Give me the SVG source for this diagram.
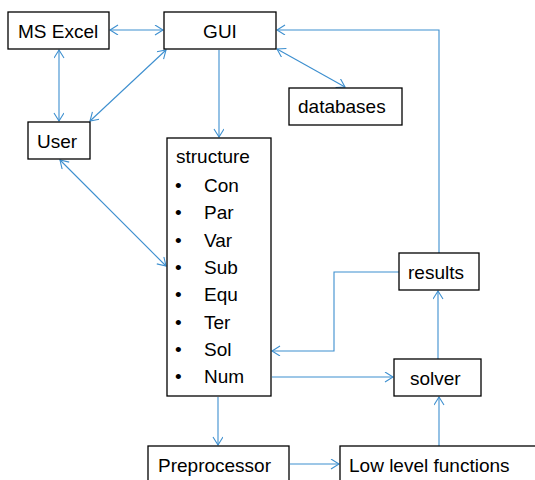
<svg xmlns="http://www.w3.org/2000/svg" width="535" height="480" viewBox="0 0 535 480">
<style>
.box{fill:#fff;stroke:#000;stroke-width:1.3}
.t{font-family:"Liberation Sans",Arial,sans-serif;font-size:19px;fill:#000}
.c{fill:none;stroke:#3d8fcf;stroke-width:1.1}
.a{marker-end:url(#ah)}
.b{marker-start:url(#ah);marker-end:url(#ah)}
</style>
<defs>
<marker id="ah" markerWidth="12" markerHeight="12" refX="9" refY="5" orient="auto-start-reverse" markerUnits="userSpaceOnUse">
<path d="M1,0 L9,5 L1,10" fill="none" stroke="#3d8fcf" stroke-width="1.1"/>
</marker>
</defs>
<rect width="535" height="480" fill="#fff"/>
<g id="connectors">
<line class="c b" x1="110" y1="30" x2="163" y2="30"/>
<line class="c b" x1="59" y1="50" x2="59" y2="121"/>
<line class="c b" x1="166" y1="50" x2="90" y2="121"/>
<line class="c a" x1="219" y1="50" x2="219" y2="137"/>
<line class="c b" x1="277" y1="49" x2="345" y2="87"/>
<polyline class="c a" points="439,253 439,30 277,30"/>
<line class="c b" x1="60" y1="160" x2="166" y2="266"/>
<polyline class="c a" points="399,272 334,272 334,351 272,351"/>
<line class="c a" x1="272" y1="377" x2="393" y2="377"/>
<line class="c a" x1="438" y1="359" x2="438" y2="291"/>
<line class="c a" x1="218" y1="397" x2="218" y2="445"/>
<line class="c a" x1="290" y1="464" x2="339" y2="464"/>
<line class="c a" x1="439" y1="446" x2="439" y2="397"/>
</g>
<g id="msexcel"><rect class="box" x="8" y="12" width="101" height="37"/><text class="t" x="18" y="38">MS Excel</text></g>
<g id="gui"><rect class="box" x="164" y="12" width="112" height="37"/><text class="t" x="220" y="38" text-anchor="middle">GUI</text></g>
<g id="user"><rect class="box" x="28" y="122" width="62" height="37"/><text class="t" x="37" y="148">User</text></g>
<g id="databases"><rect class="box" x="289" y="88" width="113" height="37"/><text class="t" x="298" y="113">databases</text></g>
<g id="structure"><rect class="box" x="167" y="138" width="104" height="258"/>
<text class="t" x="176" y="163">structure</text>
<g class="t">
<text x="175" y="192">•</text><text x="204" y="192">Con</text>
<text x="175" y="219">•</text><text x="204" y="219">Par</text>
<text x="175" y="247">•</text><text x="204" y="247">Var</text>
<text x="175" y="274">•</text><text x="204" y="274">Sub</text>
<text x="175" y="301">•</text><text x="204" y="301">Equ</text>
<text x="175" y="329">•</text><text x="204" y="329">Ter</text>
<text x="175" y="356">•</text><text x="204" y="356">Sol</text>
<text x="175" y="383">•</text><text x="204" y="383">Num</text>
</g></g>
<g id="results"><rect class="box" x="399" y="253" width="80" height="37"/><text class="t" x="408" y="279">results</text></g>
<g id="solver"><rect class="box" x="394" y="359" width="87" height="37"/><text class="t" x="410" y="385">solver</text></g>
<g id="preprocessor"><rect class="box" x="148" y="446" width="141" height="40"/><text class="t" x="158" y="472">Preprocessor</text></g>
<g id="lowlevel"><rect class="box" x="340" y="446" width="200" height="40"/><text class="t" x="349" y="472">Low level functions</text></g>
</svg>
